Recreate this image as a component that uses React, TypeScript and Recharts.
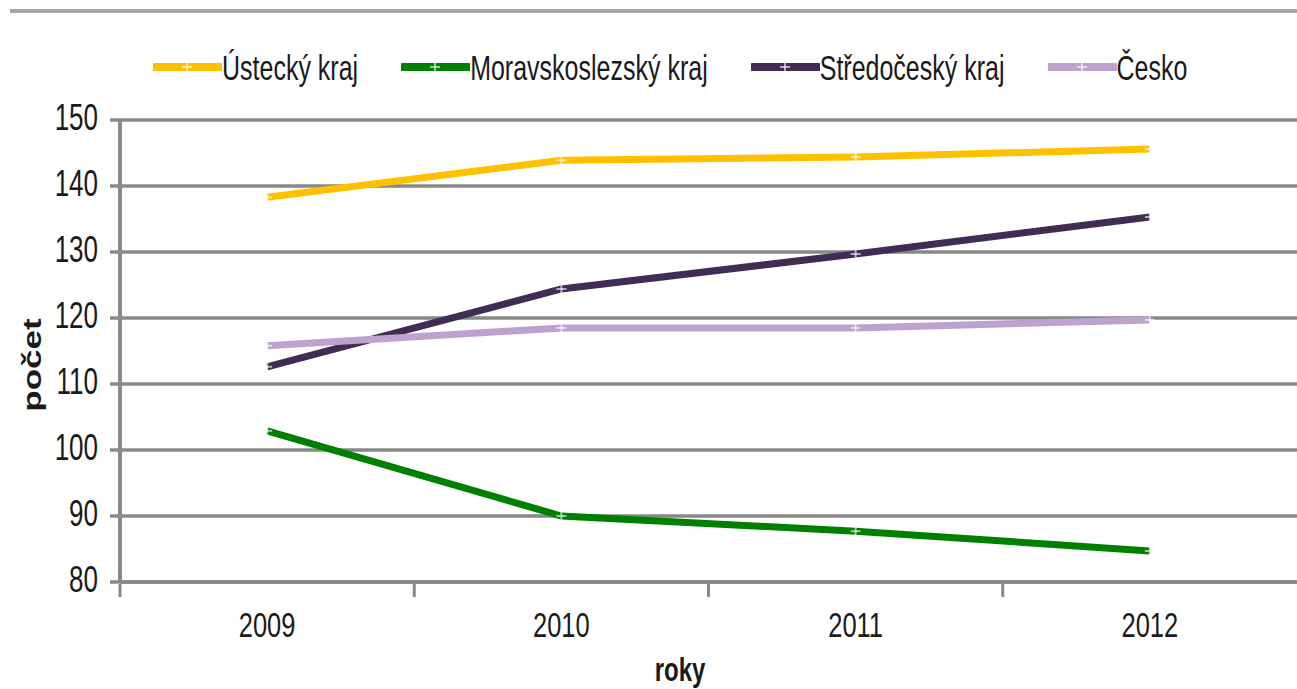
import { CartesianGrid, Label, Line, LineChart, XAxis, YAxis } from "recharts";

const years = ["2009", "2010", "2011", "2012"];
const ustecky = [138.3, 143.9, 144.4, 145.6];
const moravskoslezsky = [102.9, 90.0, 87.7, 84.7];
const stredocesky = [112.6, 124.4, 129.7, 135.3];
const cesko = [115.8, 118.5, 118.5, 119.7];
const yTicks = [80, 90, 100, 110, 120, 130, 140, 150];

const series = [
  { key: "ustecky", name: "Ústecký kraj", color: "#FFC000", values: ustecky },
  { key: "moravskoslezsky", name: "Moravskoslezský kraj", color: "#008000", values: moravskoslezsky },
  { key: "stredocesky", name: "Středočeský kraj", color: "#432C53", values: stredocesky },
  { key: "cesko", name: "Česko", color: "#BCA2CC", values: cesko },
];

const data = years.map((year, i) => {
  const row: Record<string, string | number> = { year };
  series.forEach((s) => (row[s.key] = s.values[i]));
  return row;
});

const W = 1297;
const H = 689;
const LEFT = 120;
const BAND = (W - LEFT) / years.length;
const FONT = '"Liberation Sans", Arial, sans-serif';
const STRETCH = 1.4;
const GRID = "#888888";
const INK = "#1a1a1a";

function Marker({ cx, cy }: any) {
  if (cx == null || cy == null) return null;
  return (
    <g>
      <line x1={cx - 5} y1={cy} x2={cx + 5} y2={cy} stroke="#fff" strokeOpacity={0.6} strokeWidth={2} />
      <line x1={cx} y1={cy - 5} x2={cx} y2={cy + 5} stroke="#fff" strokeOpacity={0.6} strokeWidth={2} />
    </g>
  );
}

function YearTick({ x, y, payload }: any) {
  const bx = x - BAND / 2;
  return (
    <g>
      <line x1={bx} y1={y} x2={bx} y2={y + 13} stroke={GRID} strokeWidth={3} />
      <text
        transform={`translate(${x} ${y + 53}) scale(1 ${STRETCH})`}
        textAnchor="middle"
        fontFamily={FONT}
        fontSize={25.5}
        fill={INK}
      >
        {payload.value}
      </text>
    </g>
  );
}

function ValueTick({ x, y, payload }: any) {
  return (
    <text
      transform={`translate(${x} ${y + 9.5}) scale(1 ${STRETCH})`}
      textAnchor="end"
      fontFamily={FONT}
      fontSize={26}
      fill={INK}
    >
      {payload.value}
    </text>
  );
}

function Legendy() {
  return (
    <div
      style={{
        position: "absolute",
        top: 49,
        left: 153,
        display: "flex",
        gap: 43,
        fontFamily: FONT,
        fontSize: 25,
        color: INK,
        lineHeight: "36px",
        whiteSpace: "nowrap",
      }}
    >
      {series.map((s) => (
        <div key={s.key} style={{ display: "flex", alignItems: "center" }}>
          <svg width={69} height={20}>
            <line x1={2} y1={10} x2={67} y2={10} stroke={s.color} strokeWidth={8} strokeLinecap="round" />
            <Marker cx={34} cy={10} />
          </svg>
          <span style={{ display: "inline-block", transform: `scaleY(${STRETCH})` }}>{s.name}</span>
        </div>
      ))}
    </div>
  );
}

export default function App() {
  return (
    <div style={{ position: "absolute", left: 0, top: 0, width: W, height: H, background: "#fff" }}>
      <div style={{ position: "absolute", left: 10, top: 9, width: W - 10, height: 4, background: "#a6a6a6" }} />
      <Legendy />
      <LineChart width={W} height={H} data={data} margin={{ top: 120, right: 0, bottom: 0, left: 0 }}>
        <CartesianGrid vertical={false} stroke={GRID} strokeWidth={3.5} />
        <XAxis
          dataKey="year"
          height={107}
          padding={{ left: BAND / 2, right: BAND / 2 }}
          tickSize={0}
          tickLine={false}
          axisLine={{ stroke: GRID, strokeWidth: 3.5 }}
          tick={<YearTick />}
          interval={0}
        >
          <Label
            content={() => (
              <text
                transform={`translate(680 681) scale(1 ${STRETCH})`}
                textAnchor="middle"
                fontFamily={FONT}
                fontWeight="bold"
                fontSize={24}
                fill={INK}
              >
                roky
              </text>
            )}
          />
        </XAxis>
        <YAxis
          width={LEFT}
          domain={[80, 150]}
          ticks={yTicks}
          interval={0}
          tickSize={10}
          tickMargin={12}
          tickLine={{ stroke: GRID, strokeWidth: 3.5 }}
          axisLine={{ stroke: GRID, strokeWidth: 4 }}
          tick={<ValueTick />}
        >
          <Label
            content={() => (
              <text
                transform={`translate(41 365) rotate(-90) scale(${STRETCH} 1)`}
                textAnchor="middle"
                fontFamily={FONT}
                fontWeight="bold"
                fontSize={25}
                fill={INK}
              >
                počet
              </text>
            )}
          />
        </YAxis>
        {series.map((s) => (
          <Line
            key={s.key}
            type="linear"
            dataKey={s.key}
            name={s.name}
            stroke={s.color}
            strokeWidth={7}
            dot={<Marker />}
            activeDot={false}
            isAnimationActive={false}
          />
        ))}
      </LineChart>
    </div>
  );
}
